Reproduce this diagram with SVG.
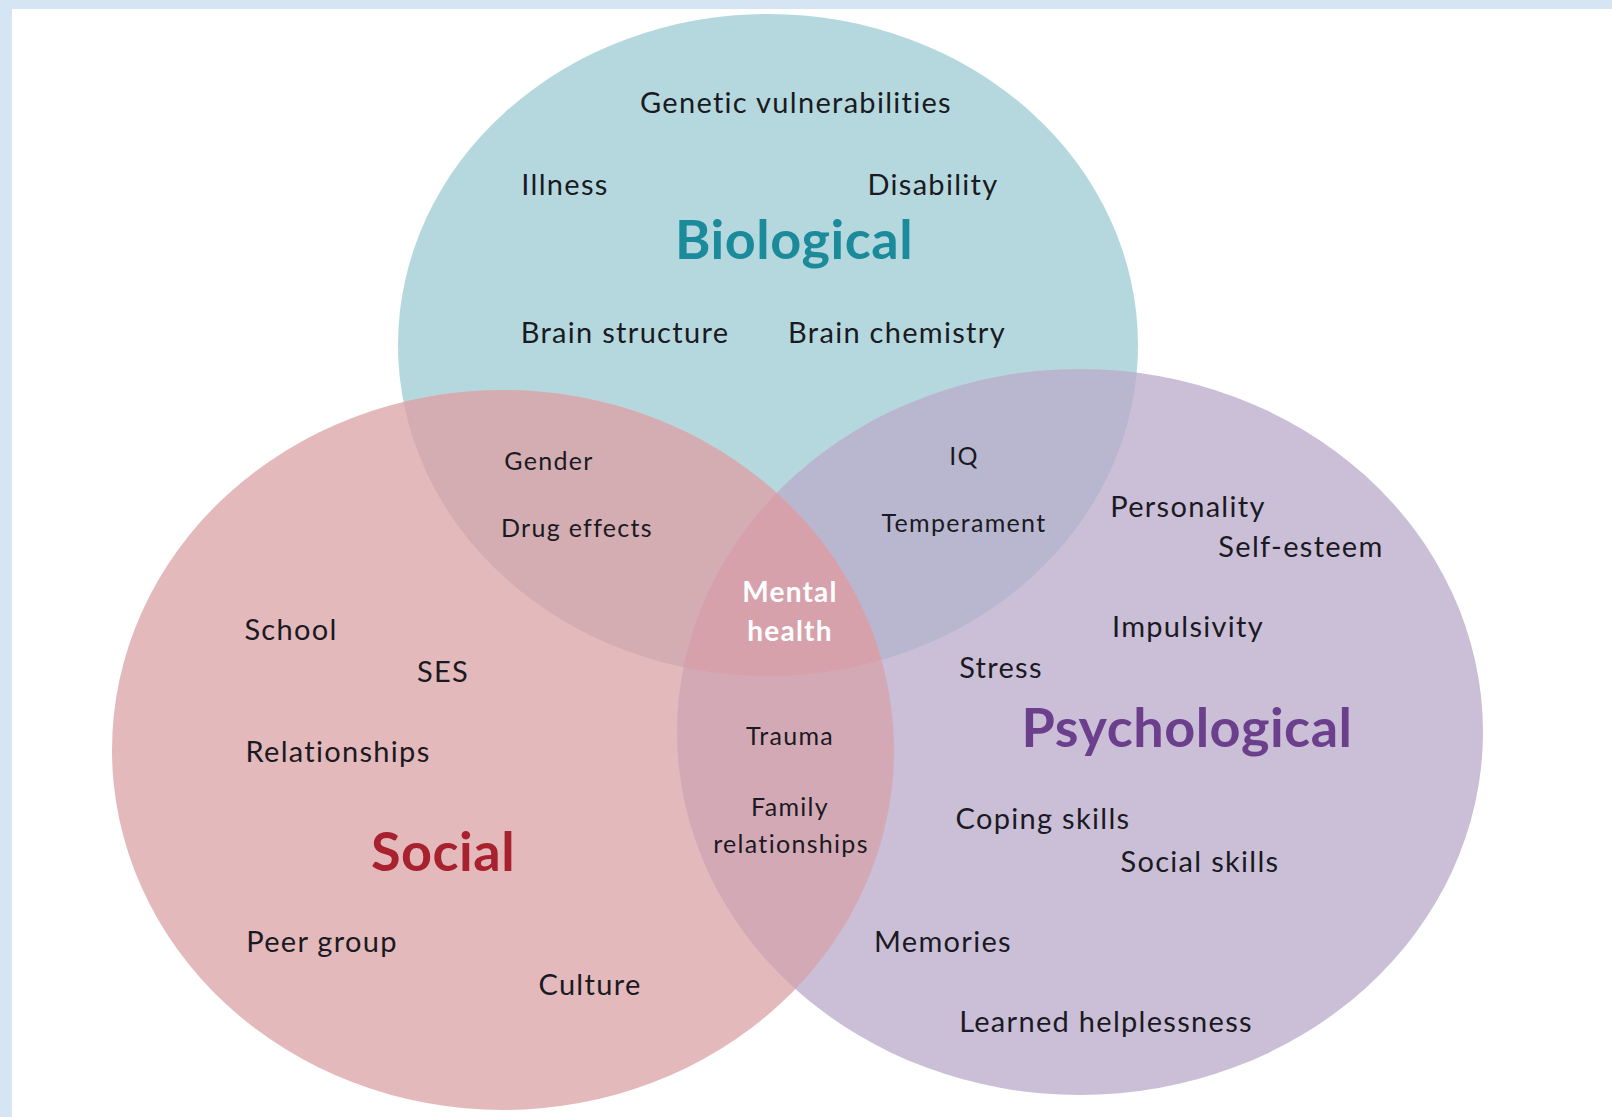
<svg xmlns="http://www.w3.org/2000/svg" width="1612" height="1117" viewBox="0 0 1612 1117">
<style>
.t{font-family:Lato,"Open Sans","Liberation Sans",sans-serif;font-size:29px;letter-spacing:1.3px;fill:#1a1a22;text-anchor:middle}
.s{font-size:25px;letter-spacing:1.3px}
.h{font-weight:bold;font-size:54px;letter-spacing:0.5px}
.w{fill:#ffffff;font-weight:bold;font-size:28px;letter-spacing:1.2px}
</style>
<defs>
<ellipse id="eb" cx="768" cy="345" rx="370" ry="331"/>
<ellipse id="es" cx="503" cy="750" rx="391" ry="360"/>
<ellipse id="ep" cx="1080" cy="732" rx="403" ry="363"/>
<clipPath id="cb"><use href="#eb"/></clipPath>
<clipPath id="cs"><use href="#es"/></clipPath>
<clipPath id="cp"><use href="#ep"/></clipPath>
</defs>
<rect x="0" y="0" width="1612" height="1117" fill="#d5e5f4"/>
<rect x="12" y="9" width="1600" height="1108" fill="#ffffff"/>
<g id="circles" stroke="none">
<use href="#eb" fill="#b5d8de"/>
<use href="#es" fill="#e4b9bc"/>
<use href="#ep" fill="#cbbfd8"/>
<g clip-path="url(#cb)"><use href="#es" fill="#d3adb2"/></g>
<g clip-path="url(#cb)"><use href="#ep" fill="#b8b7cf"/></g>
<g clip-path="url(#cs)"><use href="#ep" fill="#d4a9b6"/></g>
<g clip-path="url(#cp)"><g clip-path="url(#cb)"><use href="#es" fill="#d6a1ab"/></g></g>
</g>
<g id="biological">
<text class="t" x="796" y="113">Genetic vulnerabilities</text>
<text class="t" x="565" y="195">Illness</text>
<text class="t" x="933" y="195">Disability</text>
<text class="t h" x="794" y="259" style="fill:#1b8a9b">Biological</text>
<text class="t" x="625" y="343">Brain structure</text>
<text class="t" x="897" y="343">Brain chemistry</text>
</g>
<g id="bio-social">
<text class="t s" x="549" y="470">Gender</text>
<text class="t s" x="577" y="537">Drug effects</text>
</g>
<g id="bio-psych">
<text class="t s" x="964" y="465">IQ</text>
<text class="t s" x="964" y="532">Temperament</text>
</g>
<g id="mental-health">
<text class="t w" x="790" y="602">Mental</text>
<text class="t w" x="790" y="641">health</text>
</g>
<g id="psychological">
<text class="t" x="1188" y="517">Personality</text>
<text class="t" x="1301" y="557">Self-esteem</text>
<text class="t" x="1188" y="637">Impulsivity</text>
<text class="t" x="1001" y="678">Stress</text>
<text class="t h" x="1187" y="747" style="fill:#6c3f8c">Psychological</text>
<text class="t" x="1043" y="829">Coping skills</text>
<text class="t" x="1200" y="872">Social skills</text>
<text class="t" x="943" y="952">Memories</text>
<text class="t" x="1106" y="1032">Learned helplessness</text>
</g>
<g id="social">
<text class="t" x="291" y="640">School</text>
<text class="t" x="443" y="682">SES</text>
<text class="t" x="338" y="762">Relationships</text>
<text class="t h" x="443" y="871" style="fill:#a8212f">Social</text>
<text class="t" x="322" y="952">Peer group</text>
<text class="t" x="590" y="995">Culture</text>
</g>
<g id="social-psych">
<text class="t s" x="790" y="745">Trauma</text>
<text class="t s" x="790" y="816">Family</text>
<text class="t s" x="791" y="853">relationships</text>
</g>
</svg>
